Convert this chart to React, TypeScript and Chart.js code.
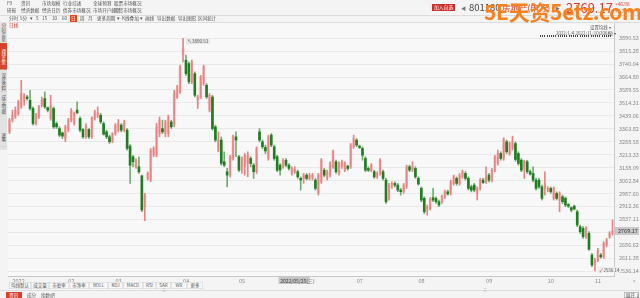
import React, { useEffect, useRef } from 'react';
import { Chart, registerables } from 'chart.js';

Chart.register(...registerables);

// ---- data (daily K-line, 2022/1/4 - 2022/11/10, 206 bars) ----
const opens = [
  3346, 3414, 3433, 3453, 3491, 3520, 3549, 3530, 3482, 3394, 3433, 3501, 3540, 3487, 3424, 3482, 3394, 3365, 3340, 3307,
  3356, 3414, 3394, 3472, 3424, 3360, 3317, 3360, 3317, 3424, 3437, 3443, 3394, 3346, 3317, 3288, 3336, 3356, 3385, 3356,
  3356, 3263, 3201, 3143, 3143, 3090, 2910, 3075, 3065, 3210, 3210, 3336, 3365, 3336, 3336, 3404, 3385, 3549, 3579, 3792,
  3763, 3743, 3637, 3685, 3530, 3549, 3627, 3617, 3472, 3549, 3375, 3239, 3298, 3172, 3114, 3094, 3191, 3317, 3201, 3123,
  3143, 3162, 3191, 3152, 3114, 3346, 3288, 3255, 3191, 3327, 3259, 3201, 3152, 3143, 3181, 3152, 3104, 3114, 3114, 3075,
  3075, 3094, 3075, 3075, 3065, 2988, 3055, 3123, 3075, 3094, 3143, 3172, 3104, 3143, 3123, 3147, 3143, 3259, 3298, 3263,
  3249, 3191, 3133, 3123, 3114, 3084, 3104, 3114, 3065, 2959, 3026, 3046, 3036, 3007, 2998, 3026, 3143, 3127, 3133, 3075,
  3017, 2959, 2891, 2900, 2963, 2959, 2939, 2939, 2968, 2997, 2988, 3046, 3075, 3046, 3084, 3104, 3075, 3026, 3036, 2988,
  3017, 3065, 3055, 3094, 3065, 3123, 3162, 3220, 3191, 3288, 3220, 3249, 3278, 3220, 3181, 3133, 3172, 3114, 3104, 3065,
  3065, 3026, 3017, 3007, 3017, 2959, 2988, 2949, 2968, 2959, 2923, 2905, 2914, 2881, 2794, 2784, 2736, 2755, 2629, 2571,
  2600, 2629, 2619, 2687, 2736, 2755,
];
const highs = [
  3424, 3472, 3491, 3530, 3646, 3569, 3559, 3588, 3491, 3453, 3501, 3549, 3579, 3491, 3559, 3491, 3404, 3375, 3346, 3385,
  3424, 3482, 3462, 3520, 3433, 3365, 3394, 3365, 3433, 3472, 3491, 3453, 3404, 3356, 3327, 3340, 3394, 3418, 3394, 3414,
  3365, 3272, 3210, 3191, 3201, 3095, 2988, 3113, 3249, 3259, 3395, 3433, 3414, 3414, 3443, 3414, 3588, 3617, 3734, 3890.53,
  3792, 3753, 3763, 3695, 3559, 3675, 3734, 3627, 3569, 3559, 3385, 3346, 3317, 3230, 3133, 3210, 3327, 3346, 3210, 3201,
  3220, 3230, 3201, 3162, 3259, 3365, 3298, 3269, 3327, 3336, 3269, 3210, 3162, 3191, 3191, 3162, 3143, 3143, 3123, 3084,
  3104, 3104, 3104, 3104, 3075, 3104, 3191, 3133, 3123, 3172, 3240, 3181, 3172, 3181, 3172, 3152, 3278, 3327, 3307, 3269,
  3259, 3201, 3143, 3162, 3123, 3114, 3191, 3123, 3075, 3046, 3055, 3055, 3046, 3017, 3046, 3152, 3152, 3172, 3143, 3084,
  3026, 2968, 2920, 2963, 3017, 2968, 2949, 2978, 3007, 3007, 3065, 3094, 3084, 3104, 3123, 3114, 3084, 3036, 3046, 3026,
  3075, 3075, 3143, 3104, 3133, 3210, 3240, 3230, 3312, 3298, 3288, 3321, 3288, 3230, 3191, 3181, 3181, 3123, 3143, 3075,
  3075, 3036, 3114, 3026, 3026, 3026, 2997, 2997, 2978, 2968, 2929, 2910, 2920, 2891, 2804, 2794, 2794, 2765, 2639, 2610,
  2668, 2639, 2707, 2726, 2765, 2833,
];
const lows = [
  3336, 3404, 3424, 3443, 3482, 3501, 3530, 3472, 3385, 3385, 3424, 3491, 3482, 3462, 3414, 3365, 3365, 3317, 3307, 3288,
  3346, 3404, 3385, 3453, 3346, 3307, 3307, 3307, 3307, 3414, 3429, 3394, 3327, 3307, 3278, 3283, 3327, 3346, 3346, 3346,
  3239, 3046, 3143, 3133, 3104, 2881, 2829, 3065, 3056, 3201, 3201, 3317, 3336, 3317, 3317, 3365, 3375, 3540, 3569, 3753,
  3675, 3627, 3627, 3549, 3482, 3540, 3617, 3540, 3462, 3356, 3288, 3230, 3152, 3143, 3026, 3084, 3181, 3201, 3114, 3104,
  3094, 3084, 3143, 3075, 3104, 3288, 3249, 3220, 3181, 3259, 3181, 3114, 3094, 3133, 3143, 3123, 3094, 3104, 3075, 3007,
  3046, 3065, 3065, 3065, 3007, 2978, 3046, 3084, 3065, 3084, 3133, 3104, 3094, 3133, 3114, 3123, 3133, 3249, 3259, 3249,
  3181, 3114, 3114, 3114, 3075, 3075, 3094, 3065, 2929, 2949, 3017, 3026, 2998, 2978, 2988, 3017, 3114, 3114, 3075, 3036,
  2939, 2871, 2862, 2891, 2939, 2929, 2910, 2929, 2959, 2978, 2978, 3036, 3036, 3036, 3075, 3065, 3007, 2997, 2997, 2949,
  3007, 3046, 3046, 3055, 3055, 3114, 3152, 3181, 3181, 3220, 3210, 3240, 3175, 3152, 3114, 3075, 3104, 3094, 3055, 3007,
  3017, 2949, 2978, 2997, 2988, 2949, 2949, 2881, 2929, 2910, 2905, 2881, 2891, 2794, 2755, 2726, 2726, 2658, 2561, 2536.14,
  2590, 2610, 2610, 2677, 2726, 2745,
];
const closes = [
  3414, 3443, 3472, 3520, 3569, 3559, 3540, 3482, 3394, 3443, 3491, 3530, 3491, 3472, 3501, 3375, 3375, 3327, 3321, 3375,
  3414, 3472, 3453, 3456, 3356, 3317, 3379, 3317, 3429, 3462, 3453, 3404, 3332, 3317, 3288, 3336, 3385, 3394, 3356, 3404,
  3249, 3152, 3172, 3181, 3113, 2891, 2978, 3104, 3239, 3249, 3375, 3414, 3346, 3404, 3433, 3375, 3569, 3608, 3724, 3830,
  3685, 3637, 3753, 3559, 3549, 3666, 3724, 3549, 3559, 3365, 3298, 3298, 3162, 3152, 3094, 3201, 3317, 3298, 3123, 3191,
  3210, 3210, 3162, 3114, 3249, 3298, 3259, 3235, 3317, 3269, 3191, 3123, 3123, 3181, 3152, 3133, 3133, 3127, 3084, 3065,
  3094, 3075, 3094, 3094, 3017, 3094, 3181, 3094, 3114, 3162, 3230, 3114, 3162, 3172, 3162, 3133, 3269, 3307, 3269, 3255,
  3210, 3123, 3123, 3152, 3084, 3104, 3181, 3075, 2939, 3036, 3046, 3036, 3007, 2998, 3036, 3143, 3123, 3143, 3084, 3042,
  2949, 2881, 2910, 2953, 2949, 2939, 2920, 2972, 2997, 2984, 3055, 3084, 3046, 3094, 3114, 3075, 3017, 3007, 3007, 3017,
  3065, 3050, 3084, 3065, 3123, 3201, 3220, 3191, 3301, 3230, 3278, 3294, 3185, 3162, 3123, 3172, 3114, 3100, 3065, 3017,
  3026, 2959, 3046, 3017, 2997, 3017, 2959, 2988, 2939, 2920, 2914, 2891, 2897, 2804, 2765, 2736, 2784, 2662, 2571, 2600,
  2658, 2619, 2697, 2716, 2755, 2769.17,
];

const monthStarts = [0, 19, 35, 58, 77, 96, 117, 138, 161, 182, 198];
const monthLabels = ['2022', '02', '03', '04', '05', '06', '07', '08', '09', '10', '11'];
const yTicks = [
  3890.53, 3815.28, 3740.04, 3664.8, 3589.55, 3514.31, 3439.06, 3363.82, 3288.58, 3213.33,
  3138.09, 3062.84, 2987.6, 2912.36, 2837.11, 2761.87, 2686.62, 2611.38, 2536.14,
];
const yMin = 2507.1;
const yMax = 3985.2;
const hoverIndex = 91;
const hoverLabel = '2022/05/25(三)';
const lastPrice = 2769.17;

const menuRow1: [string, number][] = [['F9', 7], ['资讯', 21], ['市场规模', 42], ['行业综述', 63], ['全球预测', 93], ['股票市场概况', 114]];
const menuRow2: [string, number][] = [['研报', 7], ['经济数据', 21], ['经济日历', 42], ['债券市场概况', 63], ['市场开户统计', 93], ['期货市场概况', 114]];
const toolRow: [string, number][] = [
  ['分时', 9], ['5分', 20], ['▾', 30], ['5', 36], ['15', 42], ['30', 52], ['60', 62], ['周', 80], ['月', 88],
  ['更多周期', 97], ['▾', 117], ['K线叠加', 122], ['▾', 140], ['画线', 145], ['导出数据', 157], ['导出图形', 178], ['区间统计', 198],
];
const indicatorTabs: [string, number, number][] = [
  ['均线默认', 9, 22], ['成交量', 31, 18], ['市盈率', 49, 20], ['市净率', 69, 20], ['BOLL', 89, 19], ['KDJ', 108, 15],
  ['MACD', 123, 20], ['RSI', 143, 13], ['SAR', 156, 15], ['WR', 171, 16], ['更多', 187, 16],
];
const sideTabs: [string, number, number, boolean][] = [
  ['分时走势', 22, 20, false], ['K线走势', 43, 27, true], ['深度资料', 71, 21, false], ['成交明细', 93, 22, false], ['逐笔', 127, 20, false],
];

const FONT = "'Noto Sans CJK SC', 'Noto Sans', sans-serif";

// tiny text: rendered at double size and scaled down (avoids the browser minimum font size)
const T = (p: { x: number; y: number; s?: number; c?: string; b?: boolean; children: any; style?: any }) => (
  <div
    style={{
      position: 'absolute', left: p.x, top: p.y, fontSize: (p.s ?? 5) * 2, color: p.c ?? '#444',
      fontWeight: p.b ? 700 : 400, lineHeight: 1, whiteSpace: 'nowrap', transform: 'scale(0.5)',
      transformOrigin: '0 0', ...(p.style || {}),
    }}
  >
    {p.children}
  </div>
);

export default function App() {
  const ref = useRef<HTMLCanvasElement>(null);

  useEffect(() => {
    if (!ref.current) return;
    Chart.defaults.font.family = FONT;
    const up = closes.map((c, i) => c >= opens[i]);
    const labels = closes.map((_, i) => i);

    const annot = {
      id: 'annot',
      beforeDraw(chart: any) {
        const { ctx, chartArea: a } = chart;
        ctx.save();
        ctx.fillStyle = '#f8f8f8';
        ctx.fillRect(a.left, a.top, a.right - a.left, a.bottom - a.top);
        ctx.restore();
      },
      afterDraw(chart: any) {
        const { ctx, chartArea: a } = chart;
        const x = chart.scales.x;
        const y = chart.scales.y;
        ctx.save();
        ctx.font = `4.5px ${FONT}`;
        ctx.textBaseline = 'middle';
        let hi = 0;
        let lo = 0;
        highs.forEach((h, i) => { if (h > highs[hi]) hi = i; });
        lows.forEach((l, i) => { if (l < lows[lo]) lo = i; });
        const px = x.getPixelForValue(hi);
        const py = y.getPixelForValue(highs[hi]);
        const t1 = '↖' + highs[hi].toFixed(2);
        const w1 = ctx.measureText(t1).width + 3;
        ctx.fillStyle = '#e8e8e8';
        ctx.fillRect(px + 3, py + 0.5, w1, 5.5);
        ctx.fillStyle = '#555';
        ctx.fillText(t1, px + 4.5, py + 3.3);
        const lx = x.getPixelForValue(lo);
        const ly = y.getPixelForValue(lows[lo]);
        const t2 = '↙' + lows[lo].toFixed(2);
        const w2 = ctx.measureText(t2).width + 3;
        ctx.fillStyle = '#eeeeee';
        ctx.fillRect(lx + 2.5, ly - 4, w2, 5.5);
        ctx.fillStyle = '#555';
        ctx.fillText(t2, lx + 4, ly - 1.2);
        const lpy = y.getPixelForValue(lastPrice);
        ctx.fillStyle = '#c9c9c9';
        ctx.fillRect(a.right + 1, lpy - 4, 24, 8);
        ctx.fillStyle = '#333';
        ctx.font = `5.5px ${FONT}`;
        ctx.fillText(lastPrice.toFixed(2), a.right + 4, lpy + 0.3);
        const hx = x.getPixelForValue(hoverIndex);
        ctx.fillStyle = '#c4c4c4';
        ctx.fillRect(hx + 1.5, a.bottom + 1, 31, 7);
        ctx.fillStyle = '#444';
        ctx.font = `5px ${FONT}`;
        ctx.fillText(hoverLabel, hx + 3, a.bottom + 4.7);
        ctx.restore();
      },
    };

    const chart = new Chart(ref.current, {
      type: 'bar',
      data: {
        labels,
        datasets: [
          {
            label: 'up wick',
            data: lows.map((l, i) => (up[i] ? [l, highs[i]] : null)) as any,
            backgroundColor: '#e98383',
            barThickness: 1,
            grouped: false,
          } as any,
          {
            label: 'body',
            data: opens.map((o, i) => [o, closes[i]]) as any,
            backgroundColor: up.map((u) => (u ? '#f6b8b8' : '#207e20')),
            barThickness: 2,
            grouped: false,
          } as any,
          {
            label: 'down wick',
            data: lows.map((l, i) => (!up[i] ? [l, highs[i]] : null)) as any,
            backgroundColor: '#6fae6f',
            barThickness: 1,
            grouped: false,
          } as any,
        ],
      },
      options: {
        animation: false,
        responsive: false,
        maintainAspectRatio: false,
        layout: { padding: { left: 8, top: 22, right: 0, bottom: 0 } },
        plugins: { legend: { display: false }, tooltip: { enabled: false } },
        scales: {
          x: {
            grid: { display: false, drawTicks: false },
            border: { color: '#c8c8c8' },
            ticks: {
              autoSkip: false,
              maxRotation: 0,
              minRotation: 0,
              align: 'start',
              labelOffset: 3,
              padding: 2,
              color: '#888',
              font: { size: 5.5 },
              callback: (_v: any, i: number) => {
                const k = monthStarts.indexOf(i);
                return k >= 0 ? monthLabels[k] : null;
              },
            },
            afterFit: (s: any) => { s.height = 22; },
          } as any,
          y: {
            position: 'right',
            min: yMin,
            max: yMax,
            grid: { color: '#e9e9e9', drawTicks: false },
            border: { color: '#c8c8c8' },
            ticks: {
              padding: 5,
              color: '#888',
              font: { size: 5.5 },
              callback: (v: any) => Number(v).toFixed(2),
            },
            afterBuildTicks: (s: any) => { s.ticks = yTicks.map((v) => ({ value: v })); },
            afterFit: (s: any) => { s.width = 26; },
          } as any,
        },
      },
      plugins: [annot],
    });
    return () => chart.destroy();
  }, []);

  return (
    <div style={{ position: 'relative', width: 640, height: 298, background: '#f4f4f4', overflow: 'hidden', fontFamily: FONT }}>
      <style>{'body{margin:0}'}</style>
      <canvas ref={ref} width={640} height={298} style={{ position: 'absolute', left: 0, top: 0, width: 640, height: 298 }} />

      {/* top menus */}
      {menuRow1.map(([t, x]) => <T key={'a' + t} x={x} y={1.3} s={4.6} c="#555">{t}</T>)}
      {menuRow2.map(([t, x]) => <T key={'b' + t} x={x} y={8.3} s={4.6} c="#555">{t}</T>)}
      <div style={{ position: 'absolute', left: 0, top: 14.5, width: 640, height: 0.6, background: '#dcdcdc' }} />
      {toolRow.map(([t, x], i) => <T key={'c' + i} x={x} y={16} s={4.6} c="#555">{t}</T>)}
      <div style={{ position: 'absolute', left: 70, top: 15, width: 7, height: 7, background: '#e8441a' }} />
      <T x={71.2} y={16} s={4.6} c="#fff">日</T>
      <div style={{ position: 'absolute', left: 8, top: 22, width: 632, height: 0.6, background: '#dcdcdc' }} />
      <T x={9} y={23} s={4.6} c="#e23a2a">日线</T>

      {/* top right quote */}
      <div style={{ position: 'absolute', left: 432, top: 4, width: 23, height: 7, background: '#c9302c' }} />
      <T x={433.5} y={5} s={4.8} c="#fff">加入自选</T>
      <T x={461} y={4.5} s={5} c="#777">◀</T>
      <T x={469} y={2} s={9.5} c="#444">801180</T>
      <T x={502} y={2.5} s={8.5} c="#e23a2a">房地产(申万)</T>
      <T x={555} y={4.5} s={5} c="#777">▶</T>
      <T x={566} y={1} s={13} c="#e23a2a">2769.17</T>
      <T x={615} y={2} s={4.8} c="#e23a2a">+46.98</T>
      <T x={615} y={9} s={4.8} c="#e23a2a">+1.73%</T>
      <div
        style={{
          position: 'absolute', left: 484, top: 0, fontSize: 21, fontWeight: 700, color: '#f5821f', lineHeight: 1.1,
          whiteSpace: 'nowrap', letterSpacing: -0.3,
        }}
      >
        5E天资5etz.com
      </div>

      <T x={590} y={24.5} s={4.4} c="#555">设置均线 ▾</T>
      <T x={556} y={30.5} s={4.4} c="#555">2022/1/4-2022/11/10(206根) ▾</T>
      <div
        style={{
          position: 'absolute', left: 540, top: 34.5, width: 72, height: 2,
          background: 'repeating-linear-gradient(90deg, #444 0 1px, transparent 1px 2.2px)',
        }}
      />

      {/* left sidebar */}
      <div style={{ position: 'absolute', left: 0, top: 22, width: 7, height: 128, background: '#e2e2e2' }} />
      {sideTabs.map(([t, y, h, active]) => (
        <div
          key={t}
          style={{
            position: 'absolute', left: 0, top: y, width: 14, height: h * 2, background: active ? '#d7442c' : 'transparent',
            color: active ? '#fff' : '#555', fontSize: 9, lineHeight: '14px', writingMode: 'vertical-rl',
            textAlign: 'center', borderBottom: '1.2px solid #cfcfcf', boxSizing: 'border-box',
            transform: 'scale(0.5)', transformOrigin: '0 0', paddingTop: 2,
          }}
        >
          {t}
        </div>
      ))}

      {/* bottom */}
      <T x={633} y={277.5} s={5.5} c="#777">»</T>
      {indicatorTabs.map(([t, x, w]) => (
        <div
          key={t}
          style={{
            position: 'absolute', left: x, top: 282, width: w * 2, height: 14, border: '1.2px solid #d0d0d0', boxSizing: 'border-box',
            background: '#f7f7f7', fontSize: 9, color: '#555', lineHeight: '12px', textAlign: 'center', whiteSpace: 'nowrap',
            transform: 'scale(0.5)', transformOrigin: '0 0',
          }}
        >
          {t}
        </div>
      ))}
      <div style={{ position: 'absolute', left: 0, top: 289.5, width: 640, height: 1.2, background: '#dddddd' }} />
      <T x={162} y={288.3} s={4} c="#999">≡</T>
      <T x={483} y={288.3} s={4} c="#999">≡</T>
      <div style={{ position: 'absolute', left: 6, top: 291.5, width: 16, height: 6.5, background: '#d9402a' }} />
      <T x={9} y={292.5} s={4.6} c="#fff">资讯</T>
      <T x={27} y={292.5} s={4.6} c="#555">成分</T>
      <T x={41} y={292.5} s={4.6} c="#555">指数吧</T>
      <div style={{ position: 'absolute', left: 624, top: 291.5, width: 15, height: 6.5, border: '0.6px solid #bbb', boxSizing: 'border-box' }} />
      <T x={625.5} y={292.6} s={4.4} c="#555">展开 ↕</T>
    </div>
  );
}
